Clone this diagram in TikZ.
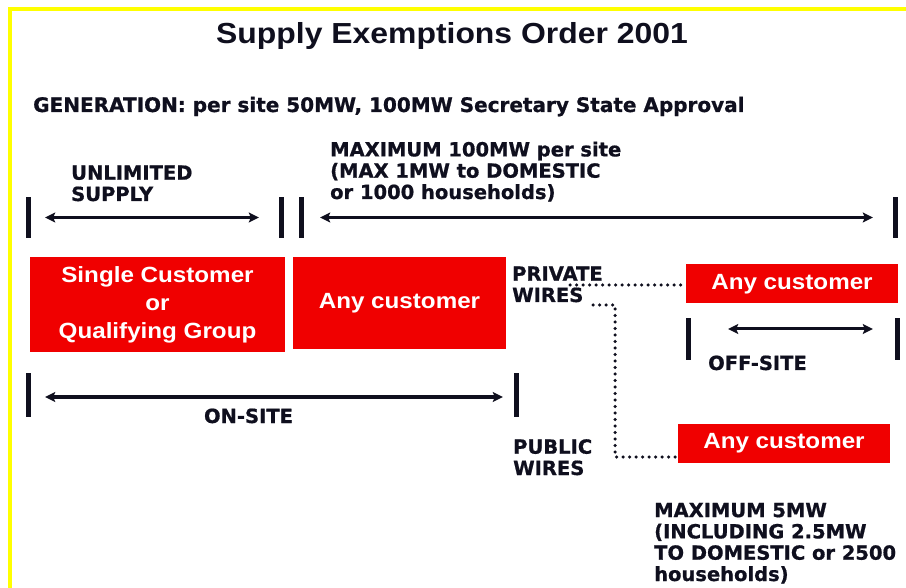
\documentclass[tikz,border=0pt]{standalone}
\usepackage{fontspec}
\usetikzlibrary{arrows.meta}
\newfontfamily\verd{DejaVu Sans}[BoldFeatures={FakeBold=0.8}]
\newfontfamily\arialf{Liberation Sans}[FakeStretch=1.1]
\definecolor{myred}{RGB}{240,0,0}
\definecolor{frameyellow}{RGB}{255,255,0}
\definecolor{ink}{RGB}{15,15,30}
\tikzset{
  lbl/.style={font=\verd\bfseries\fontsize{19.5}{21.3}\selectfont, text=ink, align=left, inner sep=0pt, anchor=base west},
  redbox/.style={fill=myred, text=white, font=\arialf\bfseries\fontsize{22}{28}\selectfont, inner sep=0pt, align=center},
  bar/.style={fill=ink, inner sep=0pt, minimum width=5pt},
  dbl/.style={draw=ink, line width=3pt, {Stealth[length=10pt,width=10pt,inset=2pt]}-{Stealth[length=10pt,width=10pt,inset=2pt]}},
  dotline/.style={draw=ink, line width=3.5pt, line cap=round, dash pattern=on 0pt off 6.5pt}
}
\begin{document}
\begin{tikzpicture}[x=1pt,y=-1pt]
\useasboundingbox (0,0) rectangle (906,588);
\fill[white] (0,0) rectangle (906,588);
% yellow frame
\fill[frameyellow] (8,7) rectangle (906,11);
\fill[frameyellow] (8,7) rectangle (12,588);

% title
\node[font=\arialf\bfseries\fontsize{29}{32}\selectfont, text=ink, inner sep=0pt, anchor=base] (title) at (452,44) {Supply Exemptions Order 2001};
\node[lbl, font=\verd\bfseries\fontsize{20}{22}\selectfont] (gen) at (33,112) {GENERATION: per site 50MW, 100MW Secretary State Approval};

% top row
\node[lbl] (unl) at (71,201) {UNLIMITED\\SUPPLY};
\node[lbl] (max100) at (330,199) {MAXIMUM 100MW per site\\(MAX 1MW to DOMESTIC\\or 1000 households)};
\node[bar, minimum height=41pt] (b1) at (28.5,217.5) {};
\node[bar, minimum height=41pt] (b2) at (281.5,217.5) {};
\node[bar, minimum height=41pt] (b3) at (301.5,217.5) {};
\node[bar, minimum height=41pt] (b4) at (895.5,217.5) {};
\draw[dbl, shorten <=14pt, shorten >=20pt] (b1) -- (b2);
\draw[dbl, shorten <=16pt, shorten >=20pt] (b3) -- (b4);

% red boxes
\node[redbox, minimum width=255pt, minimum height=95pt] (single) at (157.5,304.5) {Single Customer\\or\\Qualifying Group};
\node[redbox, minimum width=213pt, minimum height=92pt] (anyon) at (399.5,303) {Any customer};
\node[redbox, minimum width=212pt, minimum height=39pt] (anypriv) at (792,284) {Any customer};
\node[redbox, minimum width=212pt, minimum height=39pt] (anypub) at (784,443) {Any customer};

% on-site
\node[bar, minimum height=44pt] (c1) at (28.5,395) {};
\node[bar, minimum height=44pt] (c2) at (516.5,395) {};
\draw[dbl, shorten <=14pt, shorten >=11pt] ([yshift=-2pt]c1.east) -- ([yshift=-2pt]c2.west);
\node[lbl, anchor=base] (onsite) at (248.5,423) {ON-SITE};

% private / public wires
\node[lbl] (priv) at (512,302) {PRIVATE\\WIRES};
\node[lbl] (pub) at (513,475) {PUBLIC\\WIRES};
\coordinate (p1) at (570,285);
\draw[dotline] (p1) -- (p1 -| anypriv.west);
\coordinate (p2) at (593,305);
\coordinate (q2) at (615,457);
\draw[dotline] (p2) -| (q2) -- (q2 -| anypub.west);

% off-site
\node[bar, minimum height=42pt] (o1) at (688.5,339) {};
\node[bar, minimum height=42pt] (o2) at (897.5,339) {};
\draw[dbl, shorten <=37pt, shorten >=22pt] ([yshift=10pt]o1.east) -- ([yshift=10pt]o2.west);
\node[lbl] (offsite) at (708,370) {OFF-SITE};

% bottom note
\node[lbl] (max5) at (654,581) {MAXIMUM 5MW\\(INCLUDING 2.5MW\\TO DOMESTIC or 2500\\households)};
\end{tikzpicture}
\end{document}
